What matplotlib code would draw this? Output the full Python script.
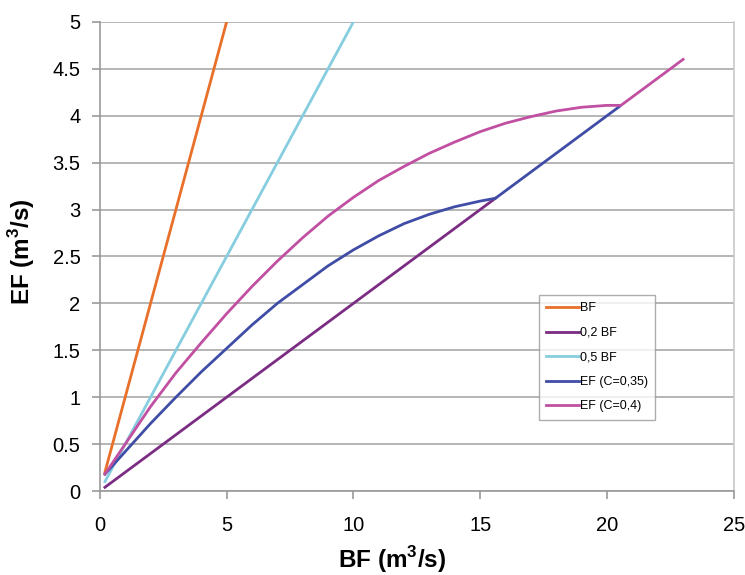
import numpy as np
import matplotlib
matplotlib.use('Agg')
import matplotlib.pyplot as plt

plt.rcParams['font.family'] = ['Liberation Sans', 'DejaVu Sans']
plt.rcParams['mathtext.fontset'] = 'custom'
plt.rcParams['mathtext.rm'] = 'Liberation Sans'
plt.rcParams['mathtext.bf'] = 'Liberation Sans:bold'

# Values (BF, EF in m3/s)
bf_x = [0.2, 5.0]
bf_y = [0.2, 5.0]

bf02_x = [0.2, 15.6]
bf02_y = [0.04, 3.12]

bf05_x = [0.2, 10.0]
bf05_y = [0.1, 5.0]

ef035_x = [0.2, 1, 2, 3, 4, 5, 6, 7, 8, 9, 10, 11, 12, 13, 14, 15, 15.6, 20.5]
ef035_y = [0.18, 0.42, 0.72, 1.0, 1.27, 1.52, 1.77, 2.0, 2.2, 2.4, 2.57, 2.72,
           2.85, 2.95, 3.03, 3.09, 3.12, 4.1]

ef04_x = [0.2, 1, 2, 3, 4, 5, 6, 7, 8, 9, 10, 11, 12, 13, 14, 15, 16, 17, 18,
          19, 20, 20.55, 23.0]
ef04_y = [0.18, 0.5, 0.9, 1.26, 1.58, 1.89, 2.18, 2.45, 2.7, 2.93, 3.13, 3.31,
          3.46, 3.6, 3.72, 3.83, 3.92, 3.99, 4.05, 4.09, 4.11, 4.11, 4.6]

fig = plt.figure(figsize=(7.45, 5.75), dpi=100)
ax = fig.add_axes([0.134, 0.146, 0.851, 0.816])

lw = 2.0
ax.plot(bf_x, bf_y, color='#E8702A', lw=lw, label='BF')
ax.plot(bf02_x, bf02_y, color='#7B2C83', lw=lw, label='0,2 BF')
ax.plot(bf05_x, bf05_y, color='#86CDE0', lw=lw, label='0,5 BF')
ax.plot(ef035_x, ef035_y, color='#3F4DA6', lw=lw, label='EF (C=0,35)')
ax.plot(ef04_x, ef04_y, color='#C150A2', lw=lw, label='EF (C=0,4)')

ax.set_xlim(0, 25)
ax.set_ylim(0, 5)
ax.set_xticks(np.arange(0, 26, 5))
ax.set_yticks(np.arange(0, 5.01, 0.5))
ax.set_yticklabels(['0', '0.5', '1', '1.5', '2', '2.5', '3', '3.5', '4', '4.5', '5'])

ax.grid(axis='y', color='#B0B0B0', lw=1.3)
ax.set_axisbelow(True)
ax.spines['top'].set_visible(False)
ax.spines['right'].set_color('#C8C8C8')
ax.spines['left'].set_color('#999999')
ax.spines['bottom'].set_color('#999999')
for s in ['left', 'bottom', 'right']:
    ax.spines[s].set_linewidth(1.2)
ax.tick_params(axis='both', labelsize=14.5, color='#999999', length=6, width=1.2,
               direction='out')
ax.tick_params(axis='x', pad=12)
ax.tick_params(axis='y', pad=8)

ax.set_xlabel(r'BF (m$^\mathbf{3}$/s)', fontsize=17.5, fontweight='bold')
ax.xaxis.set_label_coords((392 - 100) / 634, -0.112)
ax.set_ylabel(r'EF (m$^\mathbf{3}$/s)', fontsize=17.5, fontweight='bold')
ax.yaxis.set_label_coords(-0.099, 0.51)

leg = ax.legend(loc='upper left', bbox_to_anchor=(0.692, 0.418), fontsize=9,
                frameon=True, fancybox=False, edgecolor='#999999',
                handlelength=2.6, handletextpad=0.1, labelspacing=1.0,
                borderpad=0.6, borderaxespad=0)
leg.get_frame().set_linewidth(1.0)

fig.savefig('out.png', dpi=100)
